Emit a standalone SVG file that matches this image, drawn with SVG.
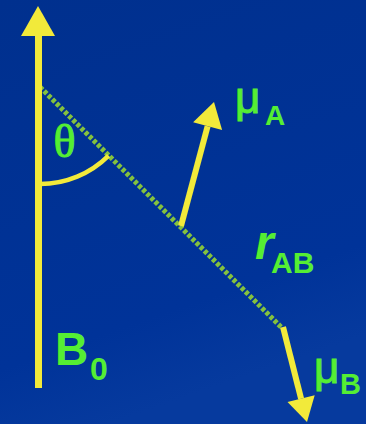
<svg xmlns="http://www.w3.org/2000/svg" width="366" height="424" viewBox="0 0 366 424">
  <defs>
    <linearGradient id="bg" x1="0" y1="0" x2="0.3" y2="1">
      <stop offset="0" stop-color="#00308e"/>
      <stop offset="0.8" stop-color="#003399"/>
      <stop offset="1" stop-color="#063a9e"/>
    </linearGradient>
    <style>
      .shaft { stroke: #f2ea3a; fill: none; }
      .head { fill: #f2ea3a; stroke: none; }
      .lbl { fill: #55ee33; font-family: "Liberation Sans", Arial, sans-serif; }
      .b { font-weight: bold; }
      .mu { stroke: #55ee33; stroke-width: 1; }
      .dots { stroke: #84c23e; stroke-width: 5; stroke-linecap: butt; stroke-dasharray: 3.8 2; fill: none; }
    </style>
  </defs>
  <rect width="366" height="424" fill="url(#bg)"/>

  <g id="connectors">
    <line id="rAB-line" class="dots" x1="40" y1="87" x2="281" y2="327"/>
  </g>

  <g id="B0">
    <line class="shaft" x1="38.5" y1="34" x2="38.5" y2="388" stroke-width="7"/>
    <polygon class="head" points="38,6 55,36 21,36"/>
    <text class="lbl b" x="55" y="365" font-size="46">B</text>
    <text class="lbl b" x="90" y="380" font-size="32">0</text>
  </g>

  <g id="theta">
    <path class="shaft" d="M40,184 A97,97 0 0 0 108.6,155.6" stroke-width="4.5"/>
    <text class="lbl mu" x="64.5" y="157" font-size="46" text-anchor="middle" style="font-family:'Liberation Serif','Times New Roman',serif">θ</text>
  </g>

  <g id="muA">
    <line class="shaft" x1="181" y1="226" x2="207.6" y2="126.2" stroke-width="6"/>
    <polygon class="head" points="214,102 222.1,130.1 193.1,122.3"/>
    <text class="lbl mu" x="235" y="113" font-size="44">μ</text>
    <text class="lbl b" x="265" y="125" font-size="28">A</text>
  </g>

  <g id="rAB">
    <text class="lbl b" x="255" y="259" font-size="48" font-style="italic">r</text>
    <text class="lbl b" x="271" y="273" font-size="30">AB</text>
  </g>

  <g id="muB">
    <line class="shaft" x1="283" y1="327" x2="301.1" y2="398.7" stroke-width="6"/>
    <polygon class="head" points="307,422 314.7,395.3 287.5,402.1"/>
    <text class="lbl mu" x="314" y="383" font-size="44">μ</text>
    <text class="lbl b" x="340" y="394" font-size="29">B</text>
  </g>
</svg>
